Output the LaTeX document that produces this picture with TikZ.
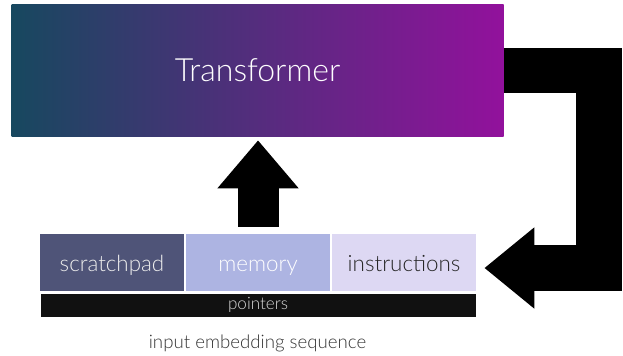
\documentclass[tikz,border=0pt]{standalone}
\usepackage{fontspec}
\setmainfont{Lato Light}
\usepackage{tikz}
\usetikzlibrary{positioning,arrows.meta}

\definecolor{tfleft}{RGB}{23,72,95}
\definecolor{tfright}{RGB}{146,17,156}
\definecolor{padcol}{RGB}{79,84,120}
\definecolor{memcol}{RGB}{173,180,226}
\definecolor{inscol}{RGB}{221,216,243}
\definecolor{ptrcol}{RGB}{17,17,17}

\begin{document}
\begin{tikzpicture}[x=0.75pt, y=-0.75pt,
    seg/.style={rectangle, minimum width=108pt, minimum height=42.75pt, inner sep=0pt,
      text height=14.5pt, text depth=0.7pt, font=\fontsize{16.8}{20}\selectfont},
    bigarrow/.style={line width=34pt, line join=miter, draw=black}]
          \useasboundingbox (0,0) rectangle (623,356);

          % Define nodes
          \node[rectangle, minimum width=369pt, minimum height=98.25pt, inner sep=0pt,
            left color=tfleft, right color=tfright, text=white,
            font=\fontsize{24}{28}\selectfont] (Transformer) at (257.5,70.5) {Transformer};
          \node[seg, fill=padcol, text=white!93!black] (Scratchpad) at (112,262.5) {scratchpad};
          \node[seg, fill=memcol, text=white, right=1.125pt of Scratchpad] (Memory) {memory};
          \node[seg, fill=inscol, text=black!85, right=1.125pt of Memory] (Instructions) {instructions};
          \node[rectangle, minimum width=326.25pt, minimum height=17.25pt, inner sep=0pt,
            fill=ptrcol, text=white!85!black, font=\fontsize{12.8}{15}\selectfont,
            below=1.5pt of Memory] (Pointers) {pointers};
          \node[text=black!80, font=\fontsize{14}{17}\selectfont] (Sequence) at (257.5,343) {input embedding sequence};
          \coordinate (Bend) at (599,268);

          % Connect the nodes
          \draw[bigarrow, line width=30.75pt, -{Triangle[length=36pt, width=58.5pt]},
            shorten <=5.25pt, shorten >=3pt]
            (Memory.north) -- (Memory.north |- Transformer.south);
          \draw[bigarrow, -{Triangle[length=37.5pt, width=58.5pt]}, shorten >=6pt]
            (Transformer.east) -- (Transformer.east -| Bend) -- (Bend) -- (Bend -| Instructions.east);

        \end{tikzpicture}
\end{document}
